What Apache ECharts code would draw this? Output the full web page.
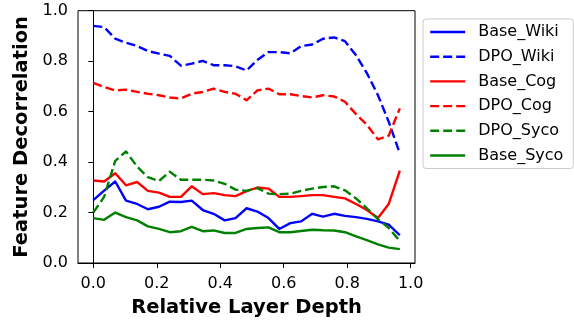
<!DOCTYPE html>
<html>
<head>
<meta charset="utf-8">
<script src="https://cdn.jsdelivr.net/npm/echarts@6/dist/echarts.min.js"></script>
<style>
html,body{margin:0;padding:0;background:#fff;}
#chart{width:574px;height:323px;}
</style>
</head>
<body>
<div id="chart"></div>
<script>
var depth = [0.000, 0.034, 0.069, 0.103, 0.138, 0.172, 0.207, 0.241, 0.276, 0.310, 0.345, 0.379, 0.414, 0.448, 0.483, 0.517, 0.552, 0.586, 0.621, 0.655, 0.690, 0.724, 0.759, 0.793, 0.828, 0.862, 0.897, 0.931, 0.966];
var baseWiki = [0.249, 0.287, 0.323, 0.247, 0.234, 0.213, 0.223, 0.243, 0.242, 0.247, 0.210, 0.195, 0.169, 0.178, 0.217, 0.204, 0.178, 0.135, 0.158, 0.165, 0.195, 0.184, 0.195, 0.187, 0.182, 0.175, 0.165, 0.152, 0.110];
var dpoWiki = [0.940, 0.935, 0.889, 0.873, 0.860, 0.840, 0.830, 0.821, 0.782, 0.790, 0.801, 0.784, 0.784, 0.780, 0.763, 0.805, 0.836, 0.836, 0.831, 0.860, 0.866, 0.889, 0.894, 0.879, 0.823, 0.753, 0.665, 0.560, 0.434];
var baseCog = [0.327, 0.323, 0.356, 0.308, 0.321, 0.286, 0.279, 0.262, 0.262, 0.304, 0.273, 0.277, 0.269, 0.265, 0.285, 0.299, 0.295, 0.262, 0.262, 0.265, 0.269, 0.269, 0.262, 0.256, 0.234, 0.210, 0.178, 0.234, 0.366];
var dpoCog = [0.714, 0.698, 0.684, 0.687, 0.678, 0.671, 0.665, 0.656, 0.652, 0.671, 0.678, 0.691, 0.678, 0.671, 0.645, 0.684, 0.691, 0.669, 0.669, 0.662, 0.656, 0.665, 0.660, 0.639, 0.590, 0.548, 0.490, 0.505, 0.613];
var dpoSyco = [0.200, 0.262, 0.405, 0.442, 0.382, 0.340, 0.325, 0.362, 0.330, 0.330, 0.330, 0.327, 0.314, 0.291, 0.286, 0.297, 0.275, 0.273, 0.275, 0.286, 0.295, 0.301, 0.304, 0.288, 0.256, 0.217, 0.174, 0.139, 0.087];
var baseSyco = [0.178, 0.171, 0.200, 0.182, 0.169, 0.145, 0.135, 0.122, 0.126, 0.143, 0.126, 0.129, 0.119, 0.119, 0.135, 0.139, 0.141, 0.122, 0.122, 0.127, 0.132, 0.130, 0.129, 0.122, 0.106, 0.091, 0.074, 0.061, 0.055];
var xTicks = [0.0, 0.2, 0.4, 0.6, 0.8, 1.0];
var seriesNames = ['Base_Wiki', 'DPO_Wiki', 'Base_Cog', 'DPO_Cog', 'DPO_Syco', 'Base_Syco'];

var FONT = 'DejaVu Sans';
function pairs(ys) { return depth.map(function (x, i) { return [x, ys[i]]; }); }
function mk(name, ys, color, dashed) {
  return {
    name: name, type: 'line', data: pairs(ys), symbol: 'none', showSymbol: false,
    lineStyle: { color: color, width: 2.4, type: dashed ? [9, 4] : 'solid', cap: 'butt', join: 'round' },
    itemStyle: { color: color },
    emphasis: { disabled: true }, animation: false
  };
}
var chart = echarts.init(document.getElementById('chart'), null, { renderer: 'canvas' });
chart.setOption({
  animation: false,
  backgroundColor: '#ffffff',
  textStyle: { fontFamily: FONT },
  grid: { left: 78, right: 159, top: 10.7, bottom: 55.7, show: true, borderColor: '#000', borderWidth: 1, backgroundColor: 'transparent' },
  legend: {
    orient: 'vertical', left: 423, top: 19,
    data: seriesNames,
    itemWidth: 35, itemHeight: 16, itemGap: 8.7,
    padding: [5, 10, 5, 6],
    borderColor: '#cccccc', borderWidth: 1, borderRadius: 3,
    backgroundColor: '#fff',
    itemStyle: { opacity: 0, borderWidth: 0 },
    lineStyle: { width: 2.4 },
    textStyle: { fontFamily: FONT, fontSize: 16, color: '#000', lineHeight: 16, padding: [0, 0, 0, 8] }
  },
  xAxis: {
    type: 'value', min: -0.0483, max: 1.0138,
    name: 'Relative Layer Depth', nameLocation: 'middle', nameGap: 35,
    nameTextStyle: { fontFamily: FONT, fontSize: 19.5, fontWeight: 'bold', color: '#000' },
    axisLine: { show: true, onZero: false, lineStyle: { color: '#000', width: 1 } },
    axisTick: { show: true, length: 5, lineStyle: { color: '#000' }, customValues: xTicks },
    axisLabel: { fontFamily: FONT, fontSize: 16, color: '#000', margin: 13, customValues: xTicks, formatter: function (v) { return v.toFixed(1); } },
    splitLine: { show: false }
  },
  yAxis: {
    type: 'value', min: 0, max: 1, interval: 0.2,
    name: 'Feature Decorrelation', nameLocation: 'middle', nameGap: 40,
    nameTextStyle: { fontFamily: FONT, fontSize: 19.5, fontWeight: 'bold', color: '#000' },
    axisLine: { show: true, lineStyle: { color: '#000', width: 1 } },
    axisTick: { show: true, length: 5, lineStyle: { color: '#000' } },
    axisLabel: { fontFamily: FONT, fontSize: 16, color: '#000', margin: 10, formatter: function (v) { return v.toFixed(1); } },
    splitLine: { show: false }
  },
  series: [
    mk('Base_Wiki', baseWiki, '#0000ff', false),
    mk('DPO_Wiki', dpoWiki, '#0000ff', true),
    mk('Base_Cog', baseCog, '#ff0000', false),
    mk('DPO_Cog', dpoCog, '#ff0000', true),
    mk('DPO_Syco', dpoSyco, '#008000', true),
    mk('Base_Syco', baseSyco, '#008000', false)
  ]
});
</script>
</body>
</html>
